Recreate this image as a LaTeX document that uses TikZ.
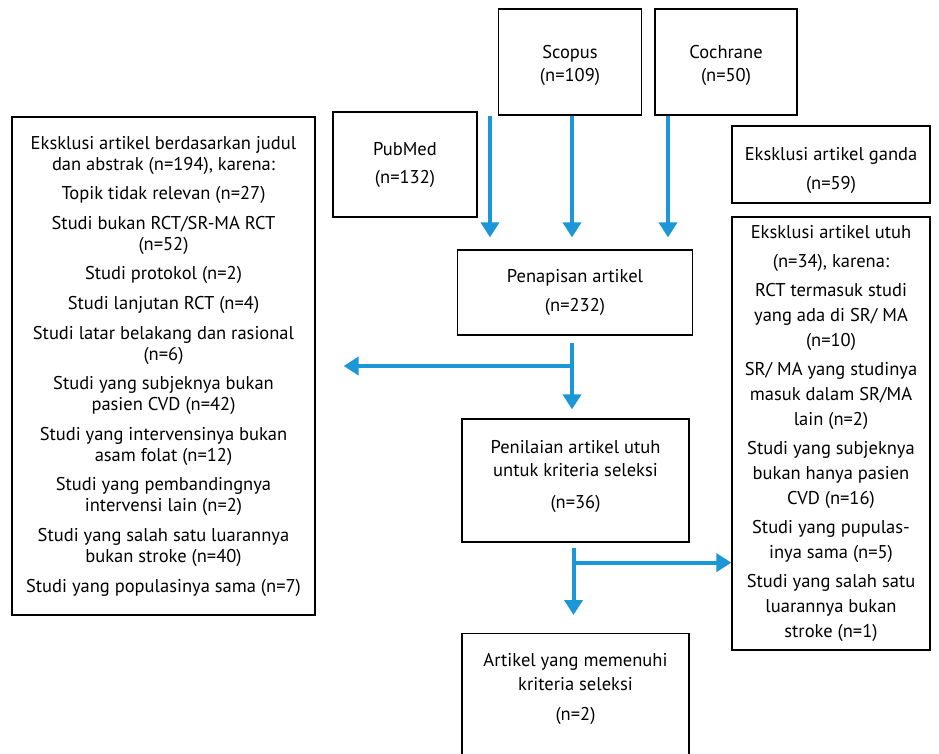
\documentclass[tikz,border=0pt]{standalone}
\usepackage{fontspec}
\setmainfont{PT Sans}
\usetikzlibrary{arrows.meta}
\definecolor{flowblue}{RGB}{27,150,214}
\tikzset{
  box/.style={draw, line width=1.3pt, align=center, inner sep=0pt,
    font=\fontsize{18.5}{21}\selectfont},
  flow/.style={draw=flowblue, line width=4pt,
    -{Triangle[width=18pt,length=15pt]}}
}
\begin{document}
\begin{tikzpicture}[x=1pt, y=-1pt]
  \useasboundingbox (0,0) rectangle (939,753);
  \node[box, minimum width=143pt, minimum height=106pt, text height=44pt] (scopus) at (570,62) {Scopus\\[2pt](n=109)};
  \node[box, minimum width=142pt, minimum height=106pt, text height=44pt] (cochrane) at (726,62) {Cochrane\\[2pt](n=50)};
  \node[box, minimum width=144pt, minimum height=105pt] (pubmed) at (405,164.5) {PubMed\\[7pt](n=132)};
  \node[box, minimum width=198pt, minimum height=77pt, text height=54pt] (ganda) at (831,164.5) {Eksklusi artikel ganda\\[8pt](n=59)};
  \node[box, minimum width=303pt, minimum height=498pt] (exjudul) at (163.5,366)
    {Eksklusi artikel berdasarkan judul\\dan abstrak (n=194), karena:\\[8.6pt]Topik tidak relevan (n=27)\\[8.6pt]Studi bukan RCT/SR-MA RCT\\(n=52)\\[8.6pt]Studi protokol (n=2)\\[8.6pt]Studi lanjutan RCT (n=4)\\[8.6pt]Studi latar belakang dan rasional\\(n=6)\\[8.6pt]Studi yang subjeknya bukan\\pasien CVD (n=42)\\[8.6pt]Studi yang intervensinya bukan\\asam folat (n=12)\\[8.6pt]Studi yang pembandingnya\\intervensi lain (n=2)\\[8.6pt]Studi yang salah satu luarannya\\bukan stroke (n=40)\\[8.6pt]Studi yang populasinya sama (n=7)};
  \node[box, font=\fontsize{18.5}{25}\selectfont, minimum width=198pt, minimum height=433pt] (exutuh) at (831,433.5)
    {Eksklusi artikel utuh\\[4pt](n=34), karena:\\[4pt]RCT termasuk studi\\yang ada di SR/ MA\\(n=10)\\[4pt]SR/ MA yang studinya\\masuk dalam SR/MA\\lain (n=2)\\[4pt]Studi yang subjeknya\\bukan hanya pasien\\CVD (n=16)\\[4pt]Studi yang pupulas-\\inya sama (n=5)\\[4pt]Studi yang salah satu\\luarannya bukan\\stroke (n=1)};
  \node[box, minimum width=235pt, minimum height=85pt] (penapisan) at (575,292.5) {Penapisan artikel\\[8pt](n=232)};
  \node[box, minimum width=227pt, minimum height=123pt, text depth=13pt] (penilaian) at (575.5,480.5) {Penilaian artikel utuh\\[2pt]untuk kriteria seleksi\\[11pt](n=36)};
  \node[box, anchor=north, minimum width=227pt, inner ysep=20pt, text depth=100pt] (artikel) at (575.5,633) {Artikel yang memenuhi\\[3pt]kriteria seleksi\\[9pt](n=2)};
  \coordinate (pubtop) at ([xshift=-80pt]scopus.south);
  \coordinate (split1) at ([xshift=-3pt]penapisan.south |- exjudul.east);
  \coordinate (split2) at ([xshift=-2pt,yshift=-20pt]penilaian.south);
  \begin{scope}[flow]
    \draw[shorten >=12pt] (pubtop) -- (pubtop |- penapisan.north);
    \draw[shorten >=12pt] ([xshift=2pt]scopus.south) -- ([xshift=2pt]scopus.south |- penapisan.north);
    \draw[shorten >=12pt] ([xshift=-58pt]cochrane.south) -- ([xshift=-58pt]cochrane.south |- penapisan.north);
    \draw ([xshift=-3pt,yshift=-7pt]penapisan.south) -- ([xshift=-3pt,yshift=9pt]penapisan.south |- penilaian.north);
    \draw (split1) -- ([xshift=28pt]exjudul.east);
    \draw ([xshift=-2pt,yshift=-5pt]penilaian.south) -- ([xshift=-2pt,yshift=18pt]penilaian.south |- artikel.north);
    \draw (split2) -- (split2 -| exutuh.west);
  \end{scope}
\end{tikzpicture}
\end{document}
